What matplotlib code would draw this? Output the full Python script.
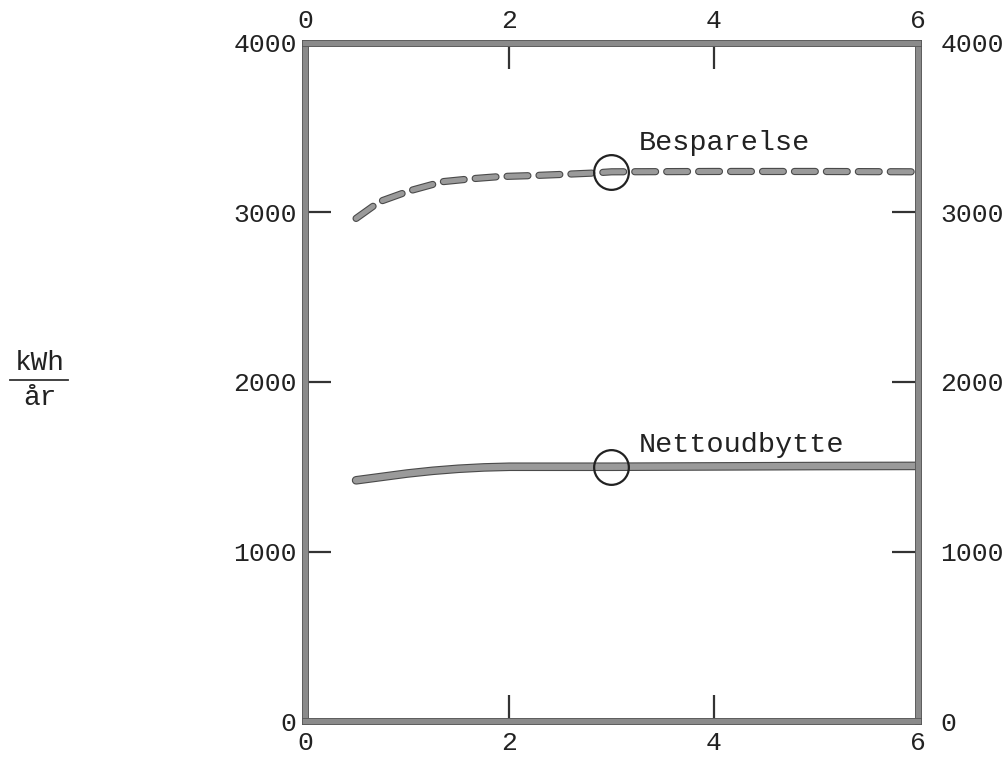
import matplotlib
matplotlib.use("Agg")
import matplotlib.pyplot as plt
import matplotlib.patheffects as pe
import matplotlib.transforms as mtrans
from matplotlib.lines import Line2D

plt.rcParams['font.family'] = ['Liberation Mono', 'DejaVu Sans Mono']
plt.rcParams['lines.scale_dashes'] = False

# Data
x_besp = [0.5, 0.73, 1.03, 1.35, 1.65, 1.91, 2.24, 2.53, 2.8, 3.0, 4.0, 5.0, 6.0]
y_besp = [2965, 3064, 3129, 3182, 3200, 3212, 3218, 3225, 3232, 3240, 3242, 3242, 3240]
x_netto = [0.5, 0.75, 1.0, 1.25, 1.5, 1.75, 2.0, 3.0, 4.0, 5.0, 6.0]
y_netto = [1420, 1440, 1460, 1476, 1488, 1496, 1500, 1500, 1502, 1504, 1505]
marker_x = [3.0]
marker_besp = [3240]
marker_netto = [1500]
label_besp = "Besparelse"
label_netto = "Nettoudbytte"
xticks = [0, 2, 4, 6]
yticks = [0, 1000, 2000, 3000, 4000]

fig = plt.figure(figsize=(10.05, 7.58), dpi=100)
ax = fig.add_axes([0.3035, 0.0488, 0.6099, 0.8945])
ax.set_xlim(0, 6)
ax.set_ylim(0, 4000)

line_col = '#9a9a9a'
l1, = ax.plot(x_besp, y_besp, color=line_col, lw=3.6, linestyle=(0, (15, 8)),
              dash_capstyle='round', solid_capstyle='round')
l1.set_path_effects([pe.Stroke(linewidth=5.2, foreground='#4a4a4a'), pe.Normal()])
l2, = ax.plot(x_netto, y_netto, color=line_col, lw=4.6, solid_capstyle='round')
l2.set_path_effects([pe.Stroke(linewidth=6.2, foreground='#4a4a4a'), pe.Normal()])

ax.plot(marker_x, marker_besp, 'o', ms=25, mfc='none', mec='#222222', mew=1.6, zorder=5)
ax.plot(marker_x, marker_netto, 'o', ms=25, mfc='none', mec='#222222', mew=1.6, zorder=5)

ax.text(3.27, 3366, label_besp, fontsize=20.5, color='#222222', va='baseline', ha='left')
ax.text(3.27, 1588, label_netto, fontsize=20.5, color='#222222', va='baseline', ha='left')

for s in ax.spines.values():
    s.set_linewidth(3.8)
    s.set_color('#8a8a8a')
    s.set_path_effects([pe.Stroke(linewidth=5, foreground='#555555'), pe.Normal()])

ax.set_xticks(xticks)
ax.set_yticks(yticks)
ax.set_xticklabels([str(v) for v in xticks])
ax.set_yticklabels([str(v) for v in yticks])
ax.tick_params(axis='both', direction='in', length=19, width=1.6, color='#333333',
               labelsize=19, labelcolor='#222222')
ax.tick_params(axis='x', top=True, labeltop=True, pad=7)
ax.tick_params(axis='y', right=True, labelright=True, pad=6)
for t in ax.yaxis.get_major_ticks():
    t.label2.set_transform(t.label2.get_transform() + mtrans.ScaledTranslation(10/72, 0, fig.dpi_scale_trans))

# y-axis unit label kWh / år
fig.text(40/1005, 1 - 370/758, "kWh", fontsize=20, ha='center', va='baseline', color='#222222')
fig.text(40/1005, 1 - 405/758, "år", fontsize=20, ha='center', va='baseline', color='#222222')
fig.add_artist(Line2D([10/1005, 68/1005], [1 - 380/758, 1 - 380/758], color='#333333', lw=1.3))

fig.savefig("out.png", dpi=100)
